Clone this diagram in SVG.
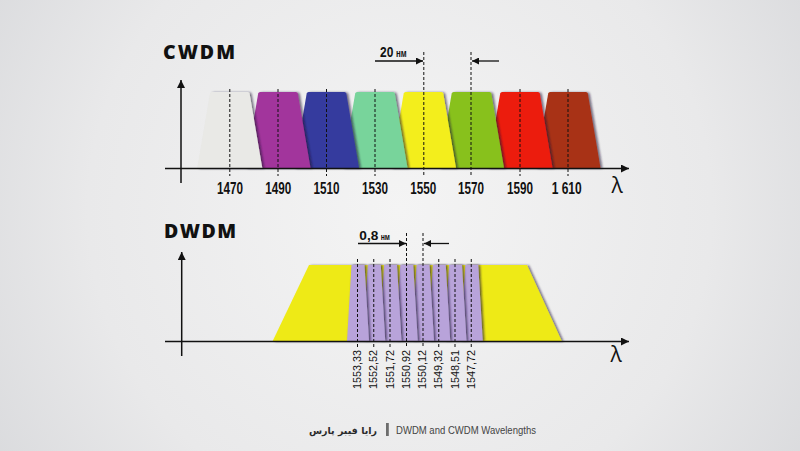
<svg xmlns="http://www.w3.org/2000/svg" xmlns:xlink="http://www.w3.org/1999/xlink" width="800" height="451" viewBox="0 0 800 451">
<defs>
<radialGradient id="bg" cx="400" cy="210" r="520" gradientUnits="userSpaceOnUse">
<stop offset="0" stop-color="#f4f4f4"/>
<stop offset="0.6" stop-color="#e9e9ea"/>
<stop offset="1" stop-color="#d6d7da"/>
</radialGradient>
<filter id="sh" x="-30%" y="-10%" width="160%" height="120%">
<feDropShadow dx="2" dy="0.5" stdDeviation="1.2" flood-color="#1a1030" flood-opacity="0.6"/>
</filter>
<filter id="shs" x="-50%" y="-10%" width="200%" height="120%">
<feDropShadow dx="1.6" dy="0" stdDeviation="0.9" flood-color="#1a1030" flood-opacity="0.7"/>
</filter>
<path id="trap" d="M-32.5 168 L-19.8 93.6 Q-19.5 92 -17.8 92 L17.8 92 Q19.5 92 19.8 93.6 L32.5 168 Z"/>
<path id="strip" d="M-10.5 341 L-6 265 L7 265 L11.5 341 Z"/>
<marker id="ah" viewBox="0 0 10 10" refX="10" refY="5" markerWidth="8" markerHeight="8" markerUnits="userSpaceOnUse" orient="auto">
<path d="M0 0 L10 5 L0 10 Z" fill="#111"/>
</marker>
<marker id="ahs" viewBox="0 0 10 10" refX="10" refY="5" markerWidth="7" markerHeight="7" markerUnits="userSpaceOnUse" orient="auto">
<path d="M0 0 L10 5 L0 10 Z" fill="#111"/>
</marker>
</defs>
<style>
.title{font-family:"Open Sans","Liberation Sans",sans-serif;font-weight:800;font-size:19.5px;fill:#111}
.axis{stroke:#111;stroke-width:1.5;fill:none}
.dash{stroke:#111;stroke-width:1;stroke-dasharray:3 2;fill:none}
.lbl{font-family:"Liberation Sans",Arial,sans-serif;font-weight:bold;font-size:16px;fill:#111;text-anchor:middle}
.rl{font-family:"Liberation Sans",Arial,sans-serif;font-size:10.3px;fill:#111}
.lam{font-family:"Open Sans","DejaVu Sans",sans-serif;font-weight:400;font-size:21px;fill:#111;text-anchor:middle}
.nm{font-family:"Liberation Sans",Arial,sans-serif;font-weight:bold;fill:#111}
.foot{font-family:"Liberation Sans",Arial,sans-serif;font-size:10.5px;fill:#444}
.fa{font-family:"DejaVu Sans","Noto Sans",sans-serif;font-weight:bold;font-size:9.5px;fill:#2a2a2a}
.b{filter:url(#sh)}
.s{filter:url(#shs);fill:#b8a3da}
</style>
<rect x="0" y="0" width="800" height="451" fill="url(#bg)"/>

<!-- CWDM -->
<g id="cwdm-title"><text class="title" x="163" y="59" textLength="72" lengthAdjust="spacing">CWDM</text></g>
<g id="cwdm-bands">
<use class="b" xlink:href="#trap" x="568" fill="#a83313"/>
<use class="b" xlink:href="#trap" x="520" fill="#ec1b0d"/>
<use class="b" xlink:href="#trap" x="471.5" fill="#88c11c"/>
<use class="b" xlink:href="#trap" x="423.5" fill="#f3ee1e"/>
<use class="b" xlink:href="#trap" x="375" fill="#78d49b"/>
<use class="b" xlink:href="#trap" x="326.5" fill="#363b9e"/>
<use class="b" xlink:href="#trap" x="278" fill="#a2359c"/>
<use class="b" xlink:href="#trap" x="229.8" fill="#e9e9e6"/>
</g>
<g id="cwdm-connectors">
<line class="axis" x1="181" y1="183" x2="181" y2="80" marker-end="url(#ah)"/>
<line class="axis" x1="165" y1="168.5" x2="629" y2="168.5" marker-end="url(#ah)"/>
<line class="dash" x1="229.8" y1="89" x2="229.8" y2="176"/>
<line class="dash" x1="278" y1="89" x2="278" y2="176"/>
<line class="dash" x1="326.5" y1="89" x2="326.5" y2="176"/>
<line class="dash" x1="375" y1="89" x2="375" y2="176"/>
<line class="dash" x1="423.8" y1="52" x2="423.8" y2="176"/>
<line class="dash" x1="471" y1="52" x2="471" y2="176"/>
<line class="dash" x1="520" y1="89" x2="520" y2="176"/>
<line class="dash" x1="568" y1="89" x2="568" y2="176"/>
<line class="axis" style="stroke-width:1.3" x1="375" y1="61" x2="423" y2="61" marker-end="url(#ahs)"/>
<line class="axis" style="stroke-width:1.3" x1="499" y1="61" x2="472" y2="61" marker-end="url(#ahs)"/>
</g>
<g id="cwdm-labels">
<text class="nm" x="380" y="57.3" font-size="15" textLength="13.3" lengthAdjust="spacingAndGlyphs">20</text>
<text class="nm" x="396" y="57.3" font-size="11" textLength="10.7" lengthAdjust="spacingAndGlyphs">нм</text>
<text class="lbl" x="230" y="193.5" textLength="26" lengthAdjust="spacingAndGlyphs">1470</text>
<text class="lbl" x="278.3" y="193.5" textLength="26" lengthAdjust="spacingAndGlyphs">1490</text>
<text class="lbl" x="326.5" y="193.5" textLength="26" lengthAdjust="spacingAndGlyphs">1510</text>
<text class="lbl" x="375" y="193.5" textLength="26" lengthAdjust="spacingAndGlyphs">1530</text>
<text class="lbl" x="423.3" y="193.5" textLength="26" lengthAdjust="spacingAndGlyphs">1550</text>
<text class="lbl" x="471" y="193.5" textLength="26" lengthAdjust="spacingAndGlyphs">1570</text>
<text class="lbl" x="520" y="193.5" textLength="26" lengthAdjust="spacingAndGlyphs">1590</text>
<text class="lbl" x="566.7" y="193.5" textLength="30" lengthAdjust="spacingAndGlyphs">1 610</text>
<text class="lam" x="617" y="193">λ</text>
</g>

<!-- DWDM -->
<g id="dwdm-title"><text class="title" x="164" y="237.7" textLength="72" lengthAdjust="spacing">DWDM</text></g>
<g id="dwdm-band">
<polygon class="b" points="309,265 527,265 561.7,341 272.7,341" fill="#eeea18"/>
</g>
<g id="dwdm-channels">
<use class="s" xlink:href="#strip" x="471.25"/>
<use class="s" xlink:href="#strip" x="455"/>
<use class="s" xlink:href="#strip" x="438.75"/>
<use class="s" xlink:href="#strip" x="422.5"/>
<use class="s" xlink:href="#strip" x="406.25"/>
<use class="s" xlink:href="#strip" x="390"/>
<use class="s" xlink:href="#strip" x="373.75"/>
<use class="s" xlink:href="#strip" x="357.5"/>
</g>
<g id="dwdm-connectors">
<line class="axis" x1="181.7" y1="356" x2="181.7" y2="252" marker-end="url(#ah)"/>
<line class="axis" x1="165" y1="341.5" x2="629" y2="341.5" marker-end="url(#ah)"/>
<line class="dash" x1="357.5" y1="259" x2="357.5" y2="347"/>
<line class="dash" x1="373.75" y1="259" x2="373.75" y2="347"/>
<line class="dash" x1="390" y1="259" x2="390" y2="347"/>
<line class="dash" x1="406.5" y1="233" x2="406.5" y2="347"/>
<line class="dash" x1="423" y1="233" x2="423" y2="347"/>
<line class="dash" x1="438.75" y1="259" x2="438.75" y2="347"/>
<line class="dash" x1="455" y1="259" x2="455" y2="347"/>
<line class="dash" x1="471.25" y1="259" x2="471.25" y2="347"/>
<line class="axis" style="stroke-width:1.3" x1="358" y1="243.5" x2="406" y2="243.5" marker-end="url(#ahs)"/>
<line class="axis" style="stroke-width:1.3" x1="449" y1="243.5" x2="424" y2="243.5" marker-end="url(#ahs)"/>
</g>
<g id="dwdm-labels">
<text class="nm" x="359.3" y="240" font-size="12" textLength="19" lengthAdjust="spacingAndGlyphs">0,8</text>
<text class="nm" x="380.7" y="240" font-size="9" textLength="9.3" lengthAdjust="spacingAndGlyphs">нм</text>
<text class="rl" transform="translate(361,389) rotate(-90)" textLength="39" lengthAdjust="spacingAndGlyphs">1553,33</text>
<text class="rl" transform="translate(377.25,389) rotate(-90)" textLength="39" lengthAdjust="spacingAndGlyphs">1552,52</text>
<text class="rl" transform="translate(393.5,389) rotate(-90)" textLength="39" lengthAdjust="spacingAndGlyphs">1551,72</text>
<text class="rl" transform="translate(409.75,389) rotate(-90)" textLength="39" lengthAdjust="spacingAndGlyphs">1550,92</text>
<text class="rl" transform="translate(426,389) rotate(-90)" textLength="39" lengthAdjust="spacingAndGlyphs">1550,12</text>
<text class="rl" transform="translate(442.25,389) rotate(-90)" textLength="39" lengthAdjust="spacingAndGlyphs">1549,32</text>
<text class="rl" transform="translate(458.5,389) rotate(-90)" textLength="39" lengthAdjust="spacingAndGlyphs">1548,51</text>
<text class="rl" transform="translate(474.75,389) rotate(-90)" textLength="39" lengthAdjust="spacingAndGlyphs">1547,72</text>
<text class="lam" x="616" y="362">λ</text>
</g>

<!-- Footer -->
<g id="footer">
<text class="fa" x="377" y="434" text-anchor="end">رایا فیبر پارس</text>
<rect x="386" y="423" width="2.8" height="13" fill="#6d6d6d"/>
<text class="foot" x="396" y="434" textLength="140" lengthAdjust="spacingAndGlyphs">DWDM and CWDM Wavelengths</text>
</g>
</svg>
